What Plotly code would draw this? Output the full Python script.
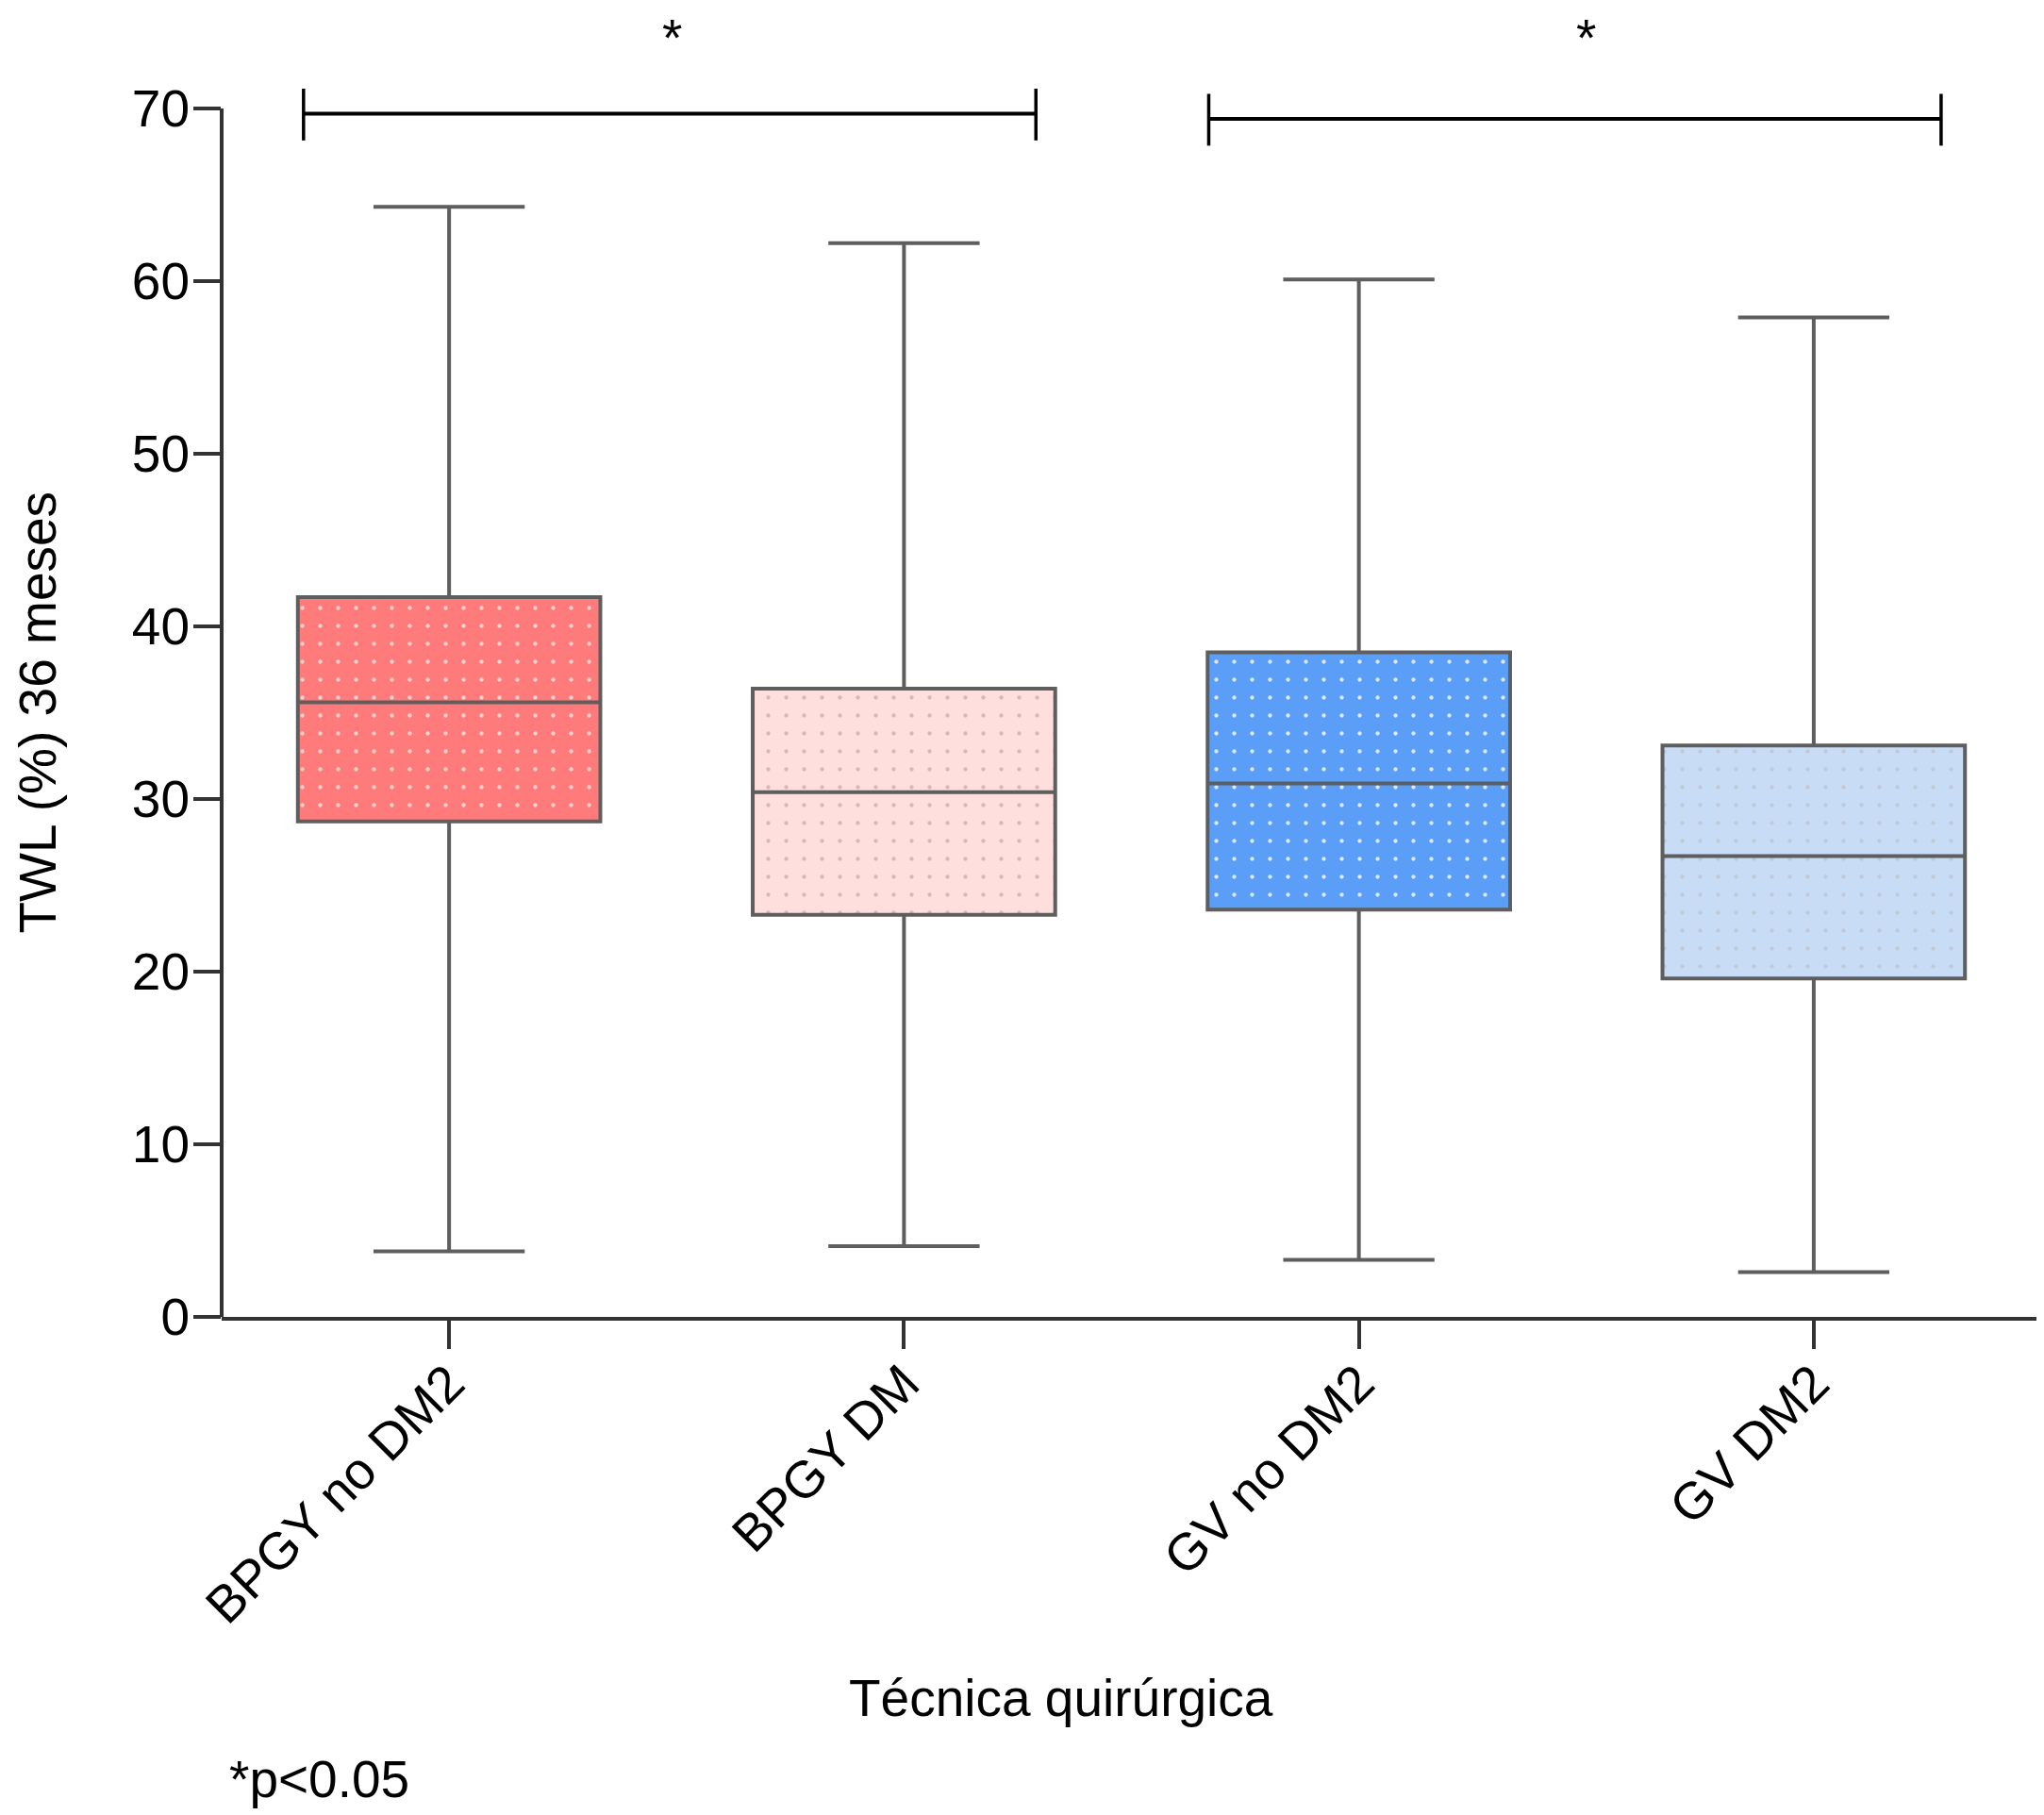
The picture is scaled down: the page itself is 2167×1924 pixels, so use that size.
import plotly.graph_objects as go

# Groups and box statistics (TWL % at 36 months)
groups = ["BPGY no DM2", "BPGY DM", "GV no DM2", "GV DM2"]
lower_whisker = [3.8, 4.1, 3.3, 2.6]
q1_vals = [28.7, 23.3, 23.6, 19.6]
medians = [35.6, 30.4, 30.9, 26.7]
q3_vals = [41.7, 36.4, 38.5, 33.1]
upper_whisker = [64.3, 62.2, 60.1, 57.9]

fill_colors = ["#FF7B7B", "#FFDEDE", "#5A9EF8", "#C9DCF6"]
dot_colors = ["#F7D3CE", "#D4B9BA", "#DCE9FC", "#C0C9D6"]

# significance brackets
bracket_left = [-0.32, 1.67]
bracket_right = [1.29, 3.28]
bracket_y = [69.7, 69.4]
star_x = [0.49, 2.50]
bracket_label = ["*", "*"]

FONT = "Liberation Sans, Arial, Helvetica, sans-serif"
FS = 55
BOXW = 0.665

fig = go.Figure()

# filled, dotted boxes (bar from q1 to q3), one trace per group
for g, q1, q3, fc, dc in zip(groups, q1_vals, q3_vals, fill_colors, dot_colors):
    fig.add_trace(go.Bar(
        x=[g], y=[q3 - q1], base=[q1],
        width=BOXW,
        marker=dict(
            color=fc,
            line=dict(width=0),
            pattern=dict(shape=".", size=19, solidity=0.04,
                         fgcolor=dc, bgcolor=fc, fillmode="replace"),
        ),
        showlegend=False,
        hoverinfo="skip",
    ))

# box outlines, medians and whiskers
fig.add_trace(go.Box(
    x=groups,
    q1=q1_vals,
    median=medians,
    q3=q3_vals,
    lowerfence=lower_whisker,
    upperfence=upper_whisker,
    width=BOXW,
    whiskerwidth=0.5,
    fillcolor="rgba(0,0,0,0)",
    line=dict(color="#5E5E5E", width=4),
    boxpoints=False,
    showlegend=False,
    hoverinfo="skip",
))

shapes = []
# y axis line only from 0 to 70
shapes.append(dict(type="line", xref="paper", yref="y", x0=0, x1=0, y0=0, y1=70,
                   line=dict(color="#333333", width=4)))

annotations = []
for xl, xr, yb, sx, lab in zip(bracket_left, bracket_right, bracket_y, star_x, bracket_label):
    shapes.append(dict(type="line", xref="x", yref="y", x0=xl, x1=xr, y0=yb, y1=yb,
                       line=dict(color="black", width=4)))
    for xe in (xl, xr):
        shapes.append(dict(type="line", xref="x", yref="y", x0=xe, x1=xe,
                           y0=yb - 1.55, y1=yb + 1.45,
                           line=dict(color="black", width=3.5)))
    annotations.append(dict(x=sx, y=74.1, xref="x", yref="y", text=lab,
                            showarrow=False, font=dict(family=FONT, size=FS, color="black")))

annotations.append(dict(text="TWL (%) 36 meses", textangle=-90, xref="paper", yref="y",
                        x=0, y=35, xshift=-195, xanchor="center", yanchor="middle",
                        showarrow=False, font=dict(family=FONT, size=FS, color="black")))
annotations.append(dict(text="Técnica quirúrgica", xref="paper", yref="paper",
                        x=0.4614, y=0, yshift=-404, xanchor="center", yanchor="middle",
                        showarrow=False, font=dict(family=FONT, size=FS, color="black")))
annotations.append(dict(text="*p<0.05", xref="paper", yref="paper",
                        x=0, y=0, xshift=6, yshift=-490, xanchor="left", yanchor="middle",
                        showarrow=False, font=dict(family=FONT, size=FS, color="black")))

fig.update_layout(
    width=2159, height=1916,
    margin=dict(l=227, r=3, t=0, b=528),
    plot_bgcolor="white", paper_bgcolor="white",
    barmode="overlay", boxmode="overlay",
    font=dict(family=FONT, size=FS, color="black"),
    shapes=shapes,
    annotations=annotations,
    xaxis=dict(
        type="category", range=[-0.5, 3.5],
        showline=True, linecolor="#333333", linewidth=4,
        ticks="outside", ticklen=30, tickwidth=4, tickcolor="#333333",
        tickangle=-45, tickfont=dict(family=FONT, size=FS, color="black"),
        ticklabelstandoff=-18,
        showgrid=False, zeroline=False,
    ),
    yaxis=dict(
        range=[0, 75.85],
        tickvals=[0, 10, 20, 30, 40, 50, 60, 70],
        showline=False,
        ticks="outside", ticklen=29, tickwidth=4, tickcolor="#333333",
        tickfont=dict(family=FONT, size=FS, color="black"),
        ticklabelstandoff=-7,
        showgrid=False, zeroline=False,
    ),
)

fig.write_html("out.html")
